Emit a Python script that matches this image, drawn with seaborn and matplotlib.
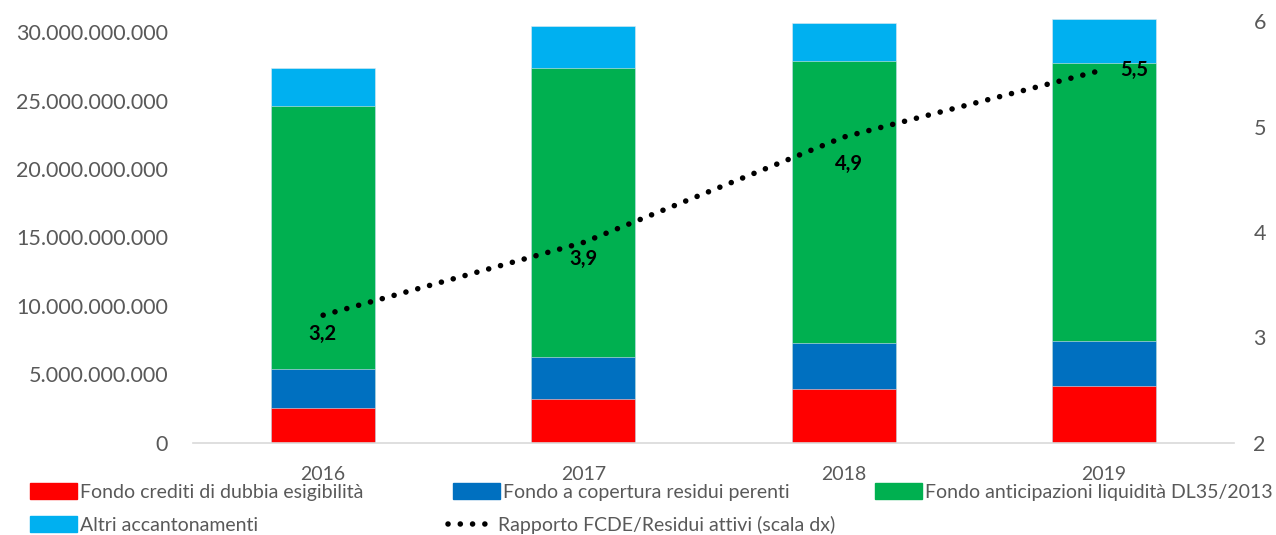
import matplotlib

matplotlib.use("Agg")
import matplotlib.pyplot as plt
import pandas as pd
import seaborn as sns
from matplotlib.lines import Line2D
from matplotlib.patches import Patch
from matplotlib.ticker import FuncFormatter

YEARS = ["2016", "2017", "2018", "2019"]
FCDE = [2.50e9, 3.18e9, 3.91e9, 4.15e9]
RESIDUI_PERENTI = [2.92e9, 3.09e9, 3.36e9, 3.29e9]
ANTICIPAZIONI = [19.20e9, 21.08e9, 20.62e9, 20.28e9]
ALTRI = [2.75e9, 3.10e9, 2.80e9, 3.24e9]
RAPPORTO = [3.21, 3.90, 4.90, 5.54]
RAPPORTO_LABELS = ["3,2", "3,9", "4,9", "5,5"]

SERIES = [
    ("Fondo crediti di dubbia esigibilità", FCDE, "#FF0000"),
    ("Fondo a copertura residui perenti", RESIDUI_PERENTI, "#0070C0"),
    ("Fondo anticipazioni liquidità DL35/2013", ANTICIPAZIONI, "#00B050"),
    ("Altri accantonamenti", ALTRI, "#00B0F0"),
]
LINE_NAME = "Rapporto FCDE/Residui attivi (scala dx)"

sns.set_theme(style="white")
plt.rcParams["font.family"] = ["Lato", "DejaVu Sans"]
GREY = "#595959"
DOTS = dict(color="black", linewidth=4.0, linestyle=(0, (0.01, 2.2)), dash_capstyle="round")

df = pd.DataFrame({name: vals for name, vals, _ in SERIES}, index=YEARS)
cum = df.cumsum(axis=1)

W, H = 1276, 535
fig = plt.figure(figsize=(W / 100, H / 100), dpi=100)
ax = fig.add_axes([193 / W, 1 - 442.7 / H, (1234 - 193) / W, (442.7 - 18) / H])

# stacked bars: draw cumulative totals from the top layer down
for name, _, color in reversed(SERIES):
    sns.barplot(x=YEARS, y=cum[name].values, color=color, width=0.4, saturation=1,
                edgecolor="#dfe9f0", linewidth=0.4, ax=ax)

ax.set_xlim(-0.5, 3.5)
ax.set_ylim(0, 31.04e9)
ax.set_yticks([i * 5e9 for i in range(7)])
ax.yaxis.set_major_formatter(FuncFormatter(lambda v, _: f"{int(v):,}".replace(",", ".")))
ax.tick_params(axis="y", labelsize=15.5, labelcolor=GREY, length=0, pad=18)
ax.tick_params(axis="x", labelsize=14, labelcolor=GREY, length=0, pad=17)
for s in ["top", "left", "right"]:
    ax.spines[s].set_visible(False)
ax.spines["bottom"].set_color("#d9d9d9")
ax.spines["bottom"].set_linewidth(1.2)
ax.set_xlabel("")
ax.set_ylabel("")

ax2 = ax.twinx()
line_df = pd.DataFrame({"x": range(len(YEARS)), "y": RAPPORTO})
sns.lineplot(data=line_df, x="x", y="y", ax=ax2, **DOTS)
ax2.set_xlim(-0.5, 3.5)
ax2.set_ylim(2, 6.03)
ax2.set_yticks([2, 3, 4, 5, 6])
ax2.tick_params(axis="y", labelsize=15.5, labelcolor=GREY, length=0, pad=14)
for s in ax2.spines.values():
    s.set_visible(False)
ax2.set_xlabel("")
ax2.set_ylabel("")

offsets = [(-1, -19), (0, -16), (5, -27), (30, 0)]
for i, (val, lab) in enumerate(zip(RAPPORTO, RAPPORTO_LABELS)):
    ax2.annotate(lab, (i, val), xytext=offsets[i], textcoords="offset pixels",
                 ha="center", va="center", fontsize=14.5, fontweight="bold", color="black")

# legend entries placed one by one, as in the source layout
entries = [
    (Patch(color=SERIES[0][2]), SERIES[0][0], 30, 492),
    (Patch(color=SERIES[1][2]), SERIES[1][0], 453, 492),
    (Patch(color=SERIES[2][2]), SERIES[2][0], 875, 492),
    (Patch(color=SERIES[3][2]), SERIES[3][0], 30, 525),
    (Line2D([], [], **DOTS), LINE_NAME, 448, 525),
]
for handle, label, px, py in entries:
    fig.legend([handle], [label], loc="center left", bbox_to_anchor=(px / W, 1 - py / H),
               frameon=False, borderpad=0, borderaxespad=0, handlelength=2.4,
               handleheight=0.85, handletextpad=0.15, fontsize=14, labelcolor=GREY)

fig.savefig("out.png", dpi=100)
